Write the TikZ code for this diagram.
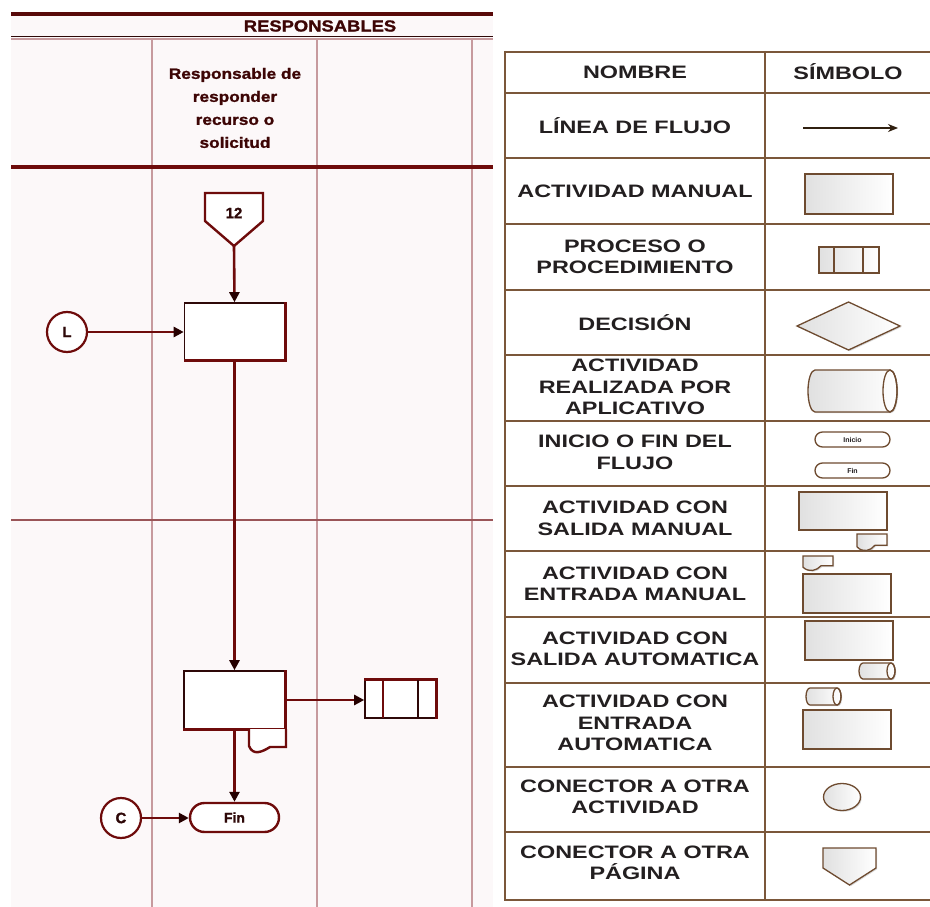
\documentclass[tikz,border=0pt]{standalone}
\usepackage{fontspec}
\setmainfont{Liberation Sans}
\newfontfamily\tblfont[FakeStretch=1.3]{Liberation Sans}
\newfontfamily\lanefont[FakeStretch=1.15,FakeBold=1.2]{Liberation Sans}
\newfontfamily\symfont[FakeBold=1]{Liberation Sans}
\usetikzlibrary{arrows.meta,shapes.misc,shapes.geometric,shadows}
\definecolor{flowred}{HTML}{6E0B0B}
\definecolor{darkbox}{HTML}{2E0808}
\definecolor{laneline}{HTML}{C79A9E}
\definecolor{midline}{HTML}{9A5558}
\definecolor{panelbg}{HTML}{FCF8F9}
\definecolor{tblline}{HTML}{7B573A}
\definecolor{tbltext}{HTML}{231F20}
\definecolor{shapeline}{HTML}{6E4B30}
\definecolor{lanetext}{HTML}{3D0505}
\newcommand\mycyl[5]{%
  \pgfmathsetmacro\cyA{#1+#5}\pgfmathsetmacro\cyB{#2-#5}%
  \pgfmathsetmacro\cyR{(#4-#3)/2}\pgfmathsetmacro\cyM{(#3+#4)/2}%
  \path[tshape] (\cyB,#3) -- (\cyA,#3) arc[start angle=270,end angle=90,x radius=#5,y radius=\cyR]
     -- (\cyB,#4) arc[start angle=90,end angle=-90,x radius=#5,y radius=\cyR] -- cycle;
  \draw[tborder] (\cyB,\cyM) ellipse[x radius=#5,y radius=\cyR];
}
\newcommand\mydoc[4]{%
  \pgfmathsetmacro\dW{#2-#1}\pgfmathsetmacro\dH{#4-#3}%
  \path[tshape] (#1,#3) -- (#1,#4-0.2*\dH) .. controls (#1+0.2*\dW,#4+0.2*\dH) and (#1+0.45*\dW,#4+0.05*\dH) .. (#1+0.6*\dW,#4-0.3*\dH)
     -- (#2,#4-0.3*\dH) -- (#2,#3) -- cycle;
}
\tikzset{
  flow/.style={draw=flowred, line width=2.6pt, -{Triangle[length=10pt,width=10pt,color=black!85!red]}},
  lanebox/.style={draw=darkbox, line width=1.6pt, minimum width=#1, inner sep=0},
  tcell/.style={font={\tblfont\bfseries\fontsize{18}{21.5}\selectfont}, text=tbltext, align=center, inner sep=0},
  tline/.style={draw=tblline, line width=2.2pt},
  tborder/.style={draw=shapeline, line width=1.3pt},
  tshape/.style={draw=shapeline, line width=1.3pt, left color=black!12, right color=white,
     drop shadow={shadow xshift=1.2pt, shadow yshift=-1.2pt, opacity=0.3}},
  tsmall/.style={font={\bfseries\fontsize{7}{8}\selectfont}, text=tbltext},
  conn/.style={circle, draw=flowred, line width=2.2pt, minimum size=40pt, inner sep=0, fill=white,
     font={\symfont\bfseries\fontsize{15}{18}\selectfont}, text=darkbox},
}
\begin{document}
\begin{tikzpicture}[x=1pt,y=-1pt]
\useasboundingbox (0,0) rectangle (930,907);
\fill[white] (0,0) rectangle (930,907);
% ---------- left panel ----------
\fill[panelbg] (11,13) rectangle (493,907);
\foreach \xx in {152,317,472} \draw[laneline, line width=2.2pt] (\xx,38) -- (\xx,907);
\draw[draw=flowred!80!black, line width=3.5pt] (11,14) -- (493,14);
\draw[darkbox, line width=1.6pt] (11,36.5) -- (493,36.5);
\draw[laneline, line width=1.5pt] (11,38.8) -- (493,38.8);
\draw[flowred, line width=3.5pt] (11,167) -- (493,167);
\draw[midline, line width=1.6pt] (11,520) -- (493,520);
\node[font={\lanefont\bfseries\fontsize{16}{19}\selectfont}, text=lanetext] (title) at (320,26) {RESPONSABLES};
\node[font={\lanefont\bfseries\fontsize{15}{23}\selectfont}, text=lanetext, align=center] (lane) at (235,108)
  {Responsable de\\responder\\recurso o\\solicitud};
% off-page connector 12
\draw[flowred, line width=2.4pt, fill=white] (205,193) -- (263,193) -- (263,221) -- (234,246) -- (205,221) -- cycle;
\node[font={\symfont\bfseries\fontsize{15}{18}\selectfont}, text=darkbox] (p12) at (234,213) {12};
\coordinate (p12tip) at (234,246);
% box 1
\node[lanebox=100pt, minimum height=57pt, fill=white] (box1) at (234.5,331.5) {};
\draw[flowred, line width=3.2pt] (box1.north east) -- (box1.south east) -- (box1.south west);
% connector L
\node[conn] (L) at (67,332) {L};
% box 2
\node[lanebox=101pt, minimum height=58pt, fill=white] (box2) at (234.5,700) {};
\draw[flowred, line width=3.2pt] (box2.north east) -- (box2.south east) -- (box2.south west);
\draw[flowred, line width=2.4pt, fill=white] (249,729) -- (249,746) .. controls (253,756) and (262,752) .. (270,747) -- (286,747) -- (286,729);
% process box
\node[draw=darkbox, line width=1.6pt, minimum width=71pt, minimum height=38pt, inner sep=0, fill=white] (proc) at (400.5,699) {};
\draw[flowred, line width=2.8pt] (proc.north west) -- (proc.north east) -- (proc.south east);
\draw[flowred, line width=2.8pt] (383,680) -- (383,718);
\draw[darkbox, line width=1.6pt] (418,680) -- (418,718);
% terminator Fin
\node[rounded rectangle, draw=flowred, line width=2.4pt, minimum width=89pt, minimum height=29pt, inner sep=0, fill=white,
  font={\symfont\bfseries\fontsize{14}{16}\selectfont}, text=darkbox] (fin) at (234.5,817.5) {Fin};
% connector C
\node[conn] (C) at (121,818) {C};
% connectors
\draw[flow] (p12tip) -- (box1.north);
\draw[flow] (L) -- (box1.west |- L);
\draw[flow] (box1.south) -- (box2.north);
\draw[flow] (box2.east) -- (box2.east -| proc.west);
\draw[flow] (box2.south) -- (fin.north);
\draw[flow] (C) -- (fin.west |- C);
% ---------- right table ----------
\foreach \yy in {52,93,158,224,290,355,421,486,551,617,683,767,832,900}
  \draw[tline] (505,\yy) -- (930,\yy);
\draw[tline] (505,51) -- (505,901);
\draw[tline] (765,51) -- (765,901);
\node[tcell] (hN) at (635,72) {NOMBRE};
\node[tcell] (hS) at (848,72) {SÍMBOLO};
\node[tcell] (n1) at (635,125.5) {LÍNEA DE FLUJO};
\node[tcell] (n2) at (635,191) {ACTIVIDAD MANUAL};
\node[tcell] (n3) at (635,257) {PROCESO O\\PROCEDIMIENTO};
\node[tcell] (n4) at (635,322.5) {DECISIÓN};
\node[tcell] (n5) at (635,387) {ACTIVIDAD\\REALIZADA POR\\APLICATIVO};
\node[tcell] (n6) at (635,452.5) {INICIO O FIN DEL\\FLUJO};
\node[tcell] (n7) at (635,518.5) {ACTIVIDAD CON\\SALIDA MANUAL};
\node[tcell] (n8) at (635,584) {ACTIVIDAD CON\\ENTRADA MANUAL};
\node[tcell] (n9) at (635,649) {ACTIVIDAD CON\\SALIDA AUTOMATICA};
\node[tcell] (n10) at (635,723) {ACTIVIDAD CON\\ENTRADA\\AUTOMATICA};
\node[tcell] (n11) at (635,797) {CONECTOR A OTRA\\ACTIVIDAD};
\node[tcell] (n12) at (635,863) {CONECTOR A OTRA\\PÁGINA};
% symbols
\coordinate (s1a) at (803,128);
\coordinate (s1b) at (898,128);
\draw[draw=black!75!brown, line width=1.4pt, -{Stealth[length=10pt,width=8pt]}] (s1a) -- (s1b);
\path[tshape] (805,174) rectangle (893,214);
\path[tshape] (819,247) rectangle (879,273);
\draw[tborder] (834,247) -- (834,273) (863,247) -- (863,273);
\path[tshape] (797,326) -- (848.5,302) -- (900,326) -- (848.5,350) -- cycle;
\mycyl{808}{897}{370}{412}{7}
\node[rounded rectangle, tborder, fill=white, minimum width=75pt, minimum height=15pt, inner sep=0, tsmall] (sIni) at (852.5,439.5) {Inicio};
\node[rounded rectangle, tborder, fill=white, minimum width=75pt, minimum height=15pt, inner sep=0, tsmall] (sFin) at (852.5,470.5) {Fin};
\path[tshape] (799,492) rectangle (887,530);
\mydoc{857}{887}{534}{550}
\mydoc{803}{833}{556}{570}
\path[tshape] (803,574) rectangle (891,613);
\path[tshape] (805,621) rectangle (893,660);
\mycyl{859}{895}{663}{679}{4}
\mycyl{806}{841}{688}{705}{4}
\path[tshape] (803,710) rectangle (891,749);
\path[tshape] (842,797) ellipse[x radius=18.5, y radius=13.5];
\path[tshape] (823,848) -- (876,848) -- (876,868) -- (849.5,885) -- (823,868) -- cycle;
\end{tikzpicture}
\end{document}
